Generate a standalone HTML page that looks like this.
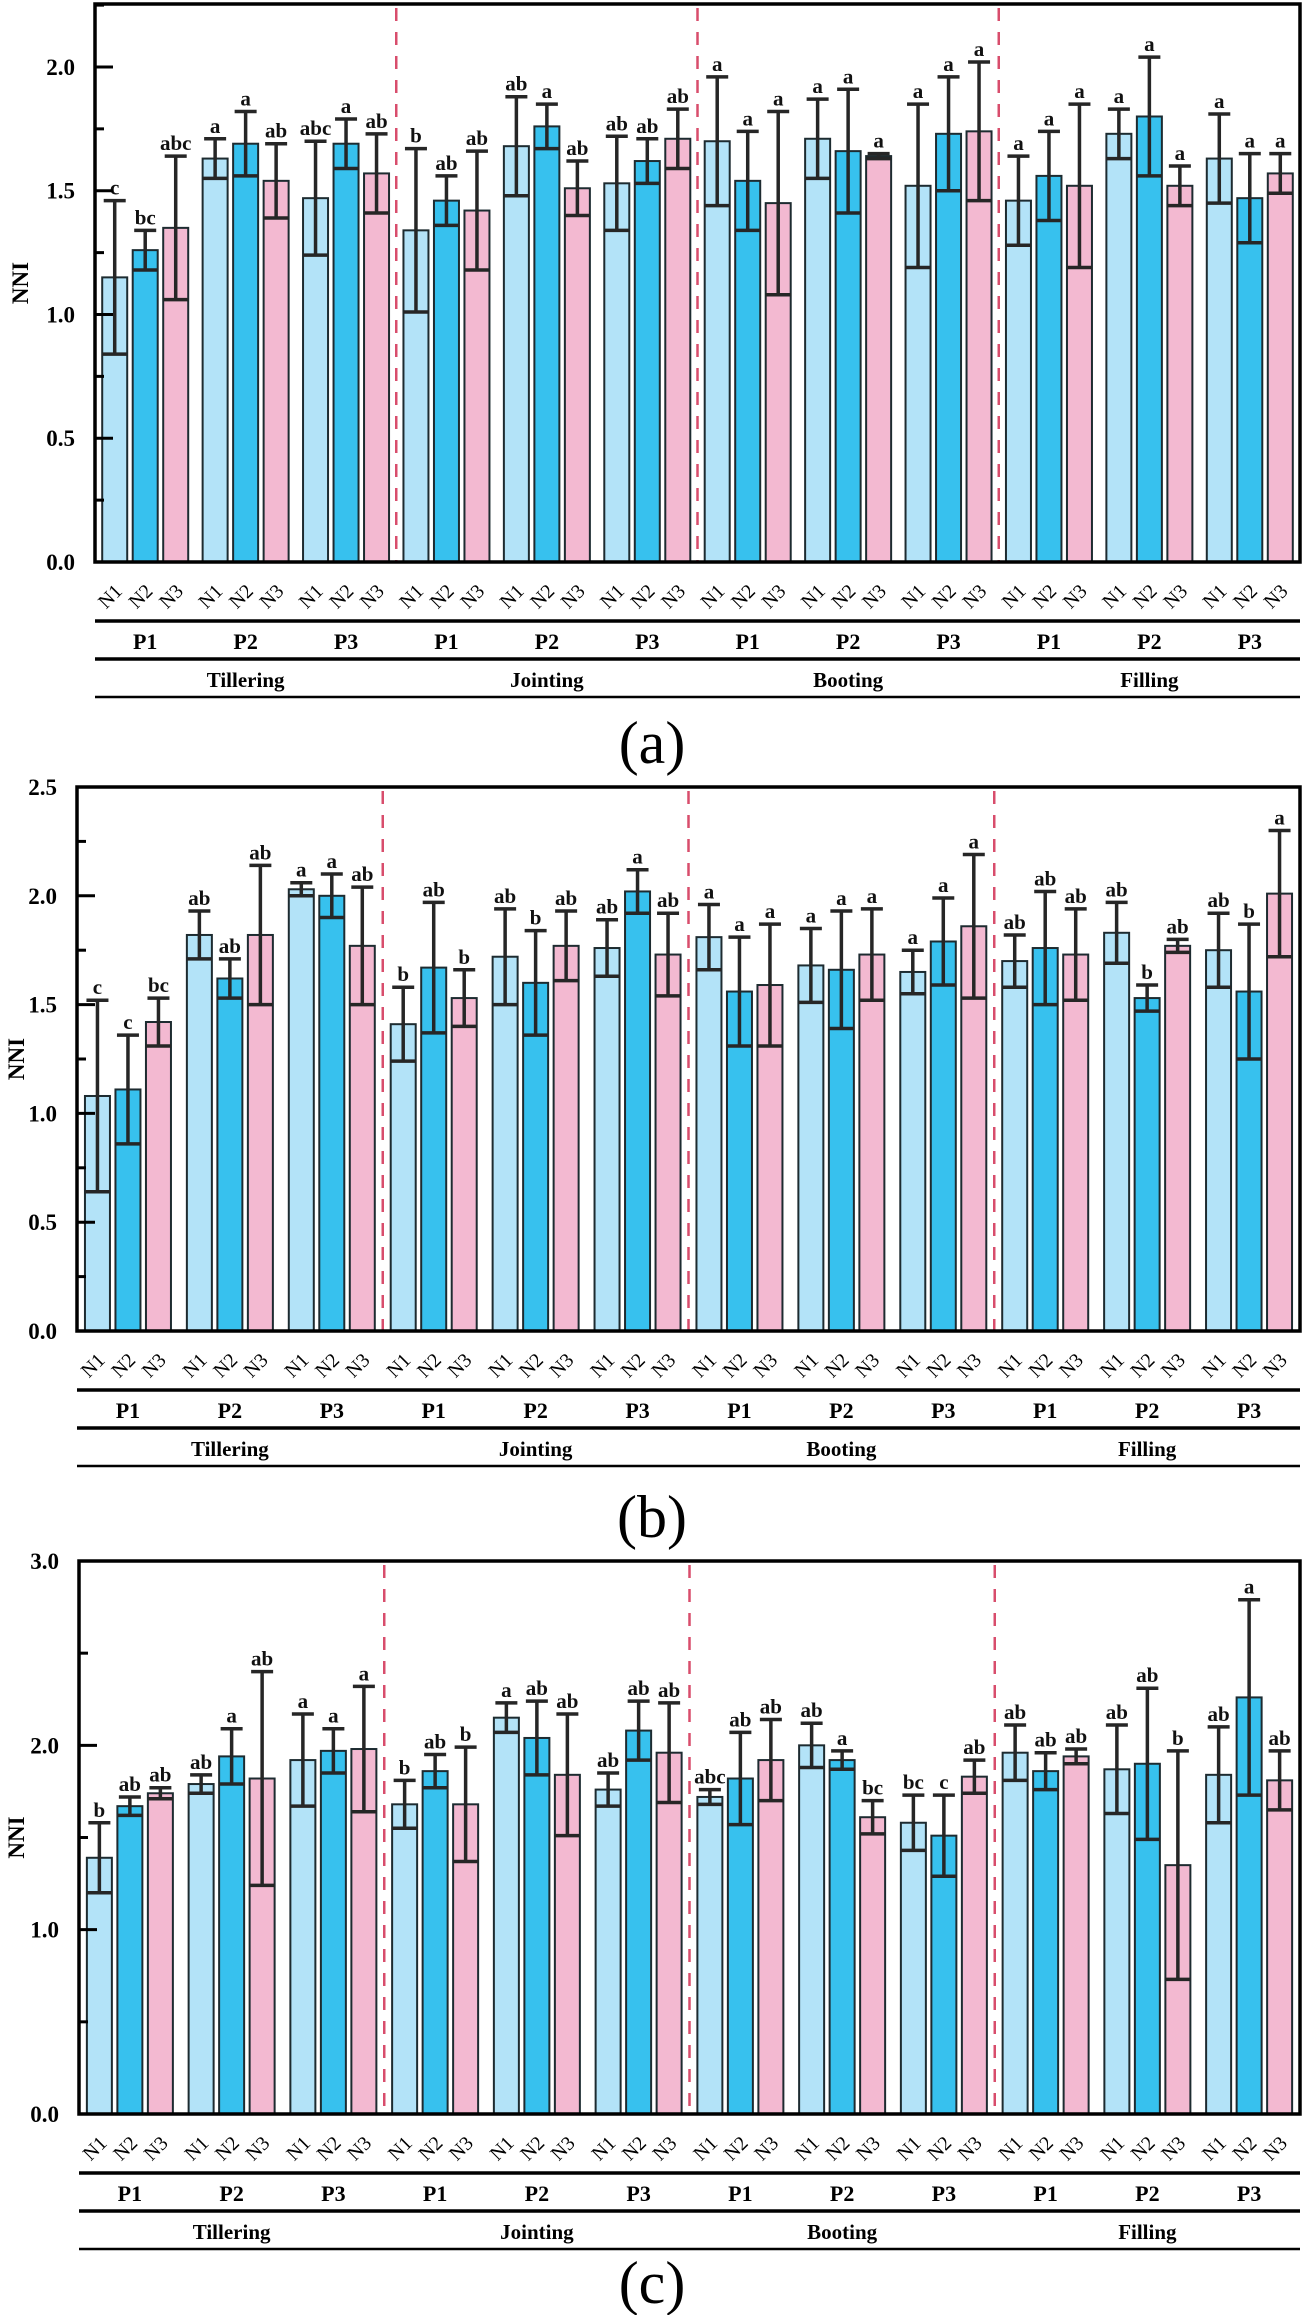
<!DOCTYPE html>
<html><head><meta charset="utf-8">
<style>
html,body{margin:0;padding:0;background:#fff;}
svg{display:block;font-family:"Liberation Serif","Times New Roman",serif;}
</style></head>
<body>
<svg id="fig" width="1303" height="2315" viewBox="0 0 1303 2315" xmlns="http://www.w3.org/2000/svg"></svg>
<script>
const stages = ["Tillering","Jointing","Booting","Filling"];
const pLevels = ["P1","P2","P3"];
const nLevels = ["N1","N2","N3"];
// Panel (a)
const aMeans = [1.15,1.26,1.35, 1.63,1.69,1.54, 1.47,1.69,1.57,
  1.34,1.46,1.42, 1.68,1.76,1.51, 1.53,1.62,1.71,
  1.70,1.54,1.45, 1.71,1.66,1.64, 1.52,1.73,1.74,
  1.46,1.56,1.52, 1.73,1.80,1.52, 1.63,1.47,1.57];
const aErrs = [0.31,0.08,0.29, 0.08,0.13,0.15, 0.23,0.10,0.16,
  0.33,0.10,0.24, 0.20,0.09,0.11, 0.19,0.09,0.12,
  0.26,0.20,0.37, 0.16,0.25,0.01, 0.33,0.23,0.28,
  0.18,0.18,0.33, 0.10,0.24,0.08, 0.18,0.18,0.08];
const aLetters = ["c","bc","abc","a","a","ab","abc","a","ab",
  "b","ab","ab","ab","a","ab","ab","ab","ab",
  "a","a","a","a","a","a","a","a","a",
  "a","a","a","a","a","a","a","a","a"];
// Panel (b)
const bMeans = [1.08,1.11,1.42, 1.82,1.62,1.82, 2.03,2.00,1.77,
  1.41,1.67,1.53, 1.72,1.60,1.77, 1.76,2.02,1.73,
  1.81,1.56,1.59, 1.68,1.66,1.73, 1.65,1.79,1.86,
  1.70,1.76,1.73, 1.83,1.53,1.77, 1.75,1.56,2.01];
const bErrs = [0.44,0.25,0.11, 0.11,0.09,0.32, 0.03,0.10,0.27,
  0.17,0.30,0.13, 0.22,0.24,0.16, 0.13,0.10,0.19,
  0.15,0.25,0.28, 0.17,0.27,0.21, 0.10,0.20,0.33,
  0.12,0.26,0.21, 0.14,0.06,0.03, 0.17,0.31,0.29];
const bLetters = ["c","c","bc","ab","ab","ab","a","a","ab",
  "b","ab","b","ab","b","ab","ab","a","ab",
  "a","a","a","a","a","a","a","a","a",
  "ab","ab","ab","ab","b","ab","ab","b","a"];
// Panel (c)
const cMeans = [1.39,1.67,1.74, 1.79,1.94,1.82, 1.92,1.97,1.98,
  1.68,1.86,1.68, 2.15,2.04,1.84, 1.76,2.08,1.96,
  1.72,1.82,1.92, 2.00,1.92,1.61, 1.58,1.51,1.83,
  1.96,1.86,1.94, 1.87,1.90,1.35, 1.84,2.26,1.81];
const cErrs = [0.19,0.05,0.03, 0.05,0.15,0.58, 0.25,0.12,0.34,
  0.13,0.09,0.31, 0.08,0.20,0.33, 0.09,0.16,0.27,
  0.04,0.25,0.22, 0.12,0.05,0.09, 0.15,0.22,0.09,
  0.15,0.10,0.04, 0.24,0.41,0.62, 0.26,0.53,0.16];
const cLetters = ["b","ab","ab","ab","a","ab","a","a","a",
  "b","ab","b","a","ab","ab","ab","ab","ab",
  "abc","ab","ab","ab","a","bc","bc","c","ab",
  "ab","ab","ab","ab","ab","b","ab","a","ab"];
const aTicks = [0,0.5,1.0,1.5,2.0];
const bTicks = [0,0.5,1.0,1.5,2.0,2.5];
const cTicks = [0,1.0,2.0,3.0];

const NS = "http://www.w3.org/2000/svg";
const svg = document.getElementById("fig");
const fills = ["#b3e3f8","#37c1ee","#f3b9d1"];
function mk(tag, attrs, parent){
  const e = document.createElementNS(NS, tag);
  for (const k in attrs) e.setAttribute(k, attrs[k]);
  (parent||svg).appendChild(e);
  return e;
}

function panel(id, means, errs, letters, ticks, yMax, minorStep, x0, yTop, yZero, capY, caption, titleX){
  const g = mk("g", {});
  
  
  const x1 = 1300;
  const gw = (x1 - x0) / 12;
  const sy = v => yZero - v * (yZero - yTop) / yMax;
  const gx = i => x0 + gw * (i + 0.5);
  const bx = k => gx(Math.floor(k/3)) + (k%3 - 1) * 30.5;
  const bw = 25;
  for (let k = 0; k < means.length; k++){
    const cx = bx(k), m = means[k], e = errs[k];
    const r = mk("rect", {x: cx - bw/2, y: sy(m), width: bw, height: yZero - sy(m), fill: fills[k%3], stroke: "#1d2b30", "stroke-width": 2}, g);
    
    
    const eg = mk("g", {stroke: "#262626", "stroke-width": 3.5}, g);
    
    
    mk("line", {x1: cx, x2: cx, y1: sy(m + e), y2: sy(m - e)}, eg);
    mk("line", {x1: cx - 11, x2: cx + 11, y1: sy(m + e), y2: sy(m + e)}, eg);
    mk("line", {x1: cx - bw/2, x2: cx + bw/2, y1: sy(m - e), y2: sy(m - e)}, eg);
    const t = mk("text", {x: cx, y: sy(m + e) - 6, "text-anchor": "middle", "font-size": 21, "font-weight": "bold", fill: "#111"}, g);
    t.textContent = letters[k];
    
    
  }
  for (let s = 1; s < 4; s++){
    const d = mk("line", {x1: x0 + gw*3*s, x2: x0 + gw*3*s, y1: yTop + 4, y2: yZero, stroke: "#d84d6c", "stroke-width": 2.5, "stroke-dasharray": "13 11"}, g);
    
    
  }
  const fr = mk("rect", {x: x0, y: yTop, width: x1 - x0, height: yZero - yTop, fill: "none", stroke: "#000", "stroke-width": 3.5}, g);
  
  
  for (let v = 0; v <= yMax + 1e-6; v += minorStep){
    const isMajor = ticks.some(t => Math.abs(t - v) < 1e-6);
    mk("line", {x1: x0, x2: x0 + (isMajor ? 18 : 9), y1: sy(v), y2: sy(v), stroke: "#000", "stroke-width": 3}, g);
  }
  for (const t of ticks){
    const tl = mk("text", {x: x0 - 20, y: sy(t) + 8, "text-anchor": "end", "font-size": 23, "font-weight": "bold"}, g);
    tl.textContent = t.toFixed(1);
    
    
  }
  const yl = mk("text", {x: 0, y: 0, "text-anchor": "middle", "font-size": 23, "font-weight": "bold", transform: "translate(" + titleX + "," + ((yTop + yZero)/2) + ") rotate(-90)"}, g);
  yl.textContent = "NNI";
  
  
  for (let k = 0; k < means.length; k++){
    const nt = mk("text", {x: 0, y: 0, "text-anchor": "middle", "font-size": 20, transform: "translate(" + bx(k) + "," + (yZero + 39) + ") rotate(-45)"}, g);
    nt.textContent = nLevels[k%3];
    
    
  }
  const rows = [yZero + 59, yZero + 97, yZero + 135];
  rows.forEach((ry, i) => {
    const ln = mk("line", {x1: x0, x2: x1, y1: ry, y2: ry, stroke: "#000", "stroke-width": i == 2 ? 2.5 : 3.5}, g);
    
    
  });
  for (let i = 0; i < 12; i++){
    const pt = mk("text", {x: gx(i), y: yZero + 87, "text-anchor": "middle", "font-size": 22, "font-weight": "bold"}, g);
    pt.textContent = pLevels[i%3];
    
    
  }
  for (let s = 0; s < 4; s++){
    const st = mk("text", {x: x0 + gw*3*(s + 0.5), y: yZero + 125, "text-anchor": "middle", "font-size": 21, "font-weight": "bold"}, g);
    st.textContent = stages[s];
    
    
  }
  const cp = mk("text", {x: 652, y: capY, "text-anchor": "middle", "font-size": 60}, g);
  cp.textContent = caption;
  
  
}

panel("a", aMeans, aErrs, aLetters, aTicks, 2.2545, 0.25, 95, 4, 562, 763, "(a)", 28);
panel("b", bMeans, bErrs, bLetters, bTicks, 2.5, 0.25, 77, 787, 1331, 1537, "(b)", 24);
panel("c", cMeans, cErrs, cLetters, cTicks, 3.0, 0.5, 79, 1561, 2114, 2303, "(c)", 24);
</script>
</body></html>
